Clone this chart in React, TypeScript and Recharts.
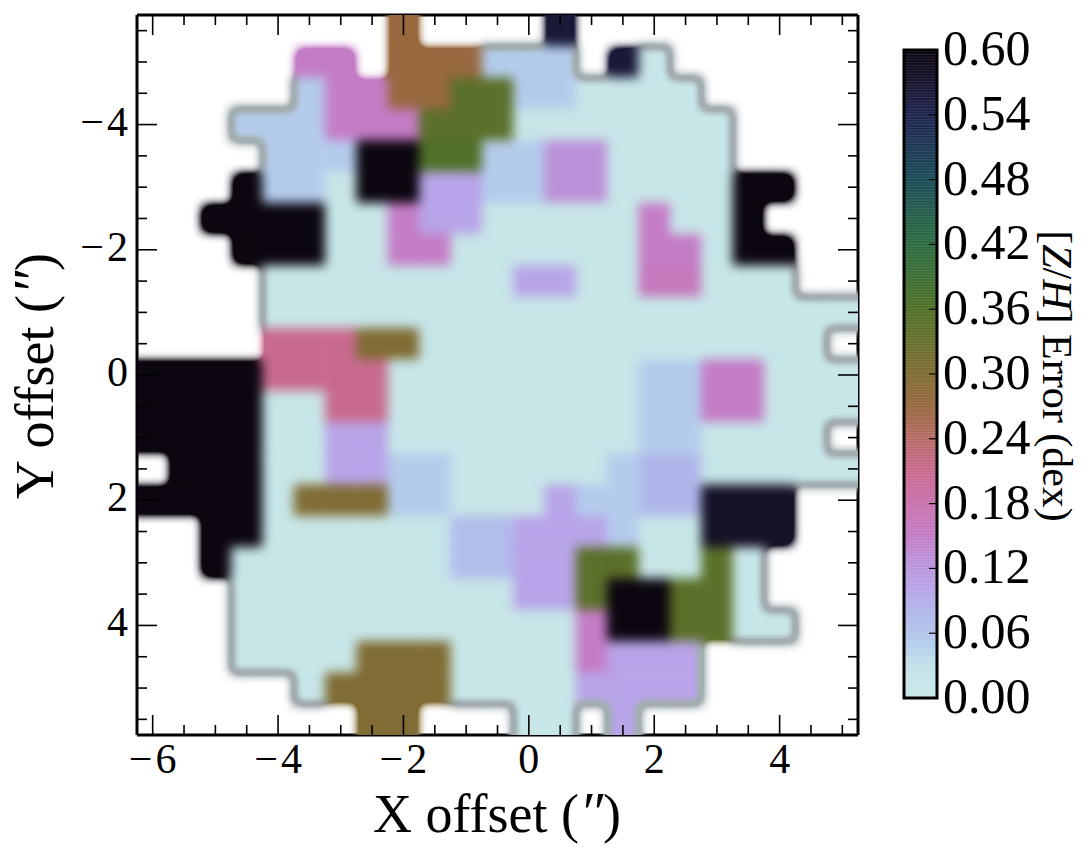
import { Bar, BarChart, Scatter, ScatterChart, XAxis, YAxis } from "recharts";

const n = null;

// cell centres in arcsec
const xCenters = [-6, -5.5, -5, -4.5, -4, -3.5, -3, -2.5, -2, -1.5, -1, -0.5, 0, 0.5, 1, 1.5, 2, 2.5, 3, 3.5, 4, 4.5, 5];
const yCenters = [-5.5, -5, -4.5, -4, -3.5, -3, -2.5, -2, -1.5, -1, -0.5, 0, 0.5, 1, 1.5, 2, 2.5, 3, 3.5, 4, 4.5, 5, 5.5];

// [Z/H] error per row, top to bottom; null = no data
const errorRows = [
  [n, n, n, n, n, n, n, n, .27, n, n, n, n, .56, n, n, n, n, n, n, n, n, n],
  [n, n, n, n, n, .15, .15, n, .27, .27, .27, .05, .05, .05, n, .56, .01, n, n, n, n, n, n],
  [n, n, n, n, n, .05, .15, .15, .27, .27, .345, .345, .05, .05, .01, .01, .01, .01, n, n, n, n, n],
  [n, n, n, .05, .05, .05, .15, .15, .15, .345, .345, .345, .01, .01, .01, .01, .01, .01, .01, n, n, n, n],
  [n, n, n, n, .05, .05, .05, .6, .6, .36, .36, .05, .05, .13, .13, .01, .01, .01, .01, n, n, n, n],
  [n, n, n, .6, .05, .05, .01, .6, .6, .1, .1, .05, .05, .13, .13, .01, .01, .01, .01, .6, .6, n, n],
  [n, n, .6, .6, .6, .6, .01, .01, .15, .1, .1, .01, .01, .01, .01, .01, .15, .01, .01, .6, n, n, n],
  [n, n, n, .6, .6, .6, .01, .01, .15, .15, .01, .01, .01, .01, .01, .01, .15, .15, .01, .6, .6, n, n],
  [n, n, n, n, .01, .01, .01, .01, .01, .01, .01, .01, .1, .1, .01, .01, .16, .16, .01, .01, .01, n, n],
  [n, n, n, n, .01, .01, .01, .01, .01, .01, .01, .01, .01, .01, .01, .01, .01, .01, .01, .01, .01, .01, .01],
  [n, n, n, n, .21, .21, .21, .3, .3, .01, .01, .01, .01, .01, .01, .01, .01, .01, .01, .01, .01, .01, n],
  [.6, .6, .6, .6, .21, .21, .21, .21, .01, .01, .01, .01, .01, .01, .01, .01, .05, .05, .15, .15, .01, .01, .01],
  [.6, .6, .6, .6, .01, .01, .21, .21, .01, .01, .01, .01, .01, .01, .01, .01, .05, .05, .15, .15, .01, .01, .01],
  [.6, .6, .6, .6, .01, .01, .1, .1, .01, .01, .01, .01, .01, .01, .01, .01, .05, .05, .01, .01, .01, .01, n],
  [n, .6, .6, .6, .01, .01, .1, .1, .05, .05, .01, .01, .01, .01, .01, .05, .08, .08, .01, .01, .01, .01, .01],
  [.6, .6, .6, .6, .01, .3, .3, .3, .05, .05, .01, .01, .01, .1, .05, .05, .08, .08, .575, .575, .575, n, n],
  [n, n, .6, .6, .01, .01, .01, .01, .01, .01, .07, .07, .1, .1, .1, .05, .01, .01, .575, .575, .575, n, n],
  [n, n, .6, .01, .01, .01, .01, .01, .01, .01, .07, .07, .1, .1, .345, .345, .01, .01, .345, .01, n, n, n],
  [n, n, n, .01, .01, .01, .01, .01, .01, .01, .01, .01, .1, .1, .345, .6, .6, .345, .345, .01, n, n, n],
  [n, n, n, .01, .01, .01, .01, .01, .01, .01, .01, .01, .01, .01, .15, .6, .6, .345, .345, .01, .01, n, n],
  [n, n, n, .01, .01, .01, .01, .3, .3, .3, .01, .01, .01, .01, .15, .1, .1, .1, n, n, n, n, n],
  [n, n, n, n, n, .01, .3, .3, .3, .3, .01, .01, .01, .01, .1, .1, .1, .1, n, n, n, n, n],
  [n, n, n, n, n, n, n, .3, .3, n, n, n, .01, .01, n, .1, n, n, n, n, n, n, n],
];

const xMajor = [-6, -4, -2, 0, 2, 4];
const xTicks = [-6, -5.5, -5, -4.5, -4, -3.5, -3, -2.5, -2, -1.5, -1, -0.5, 0, 0.5, 1, 1.5, 2, 2.5, 3, 3.5, 4, 4.5, 5];
const yMajor = [-4, -2, 0, 2, 4];
const yTicks = [-5.5, -5, -4.5, -4, -3.5, -3, -2.5, -2, -1.5, -1, -0.5, 0, 0.5, 1, 1.5, 2, 2.5, 3, 3.5, 4, 4.5, 5, 5.5];
const colorbarTicks = [0, 0.06, 0.12, 0.18, 0.24, 0.3, 0.36, 0.42, 0.48, 0.54, 0.6];
const colorbarData = [{ name: "error", top: 0.6 }];

// colormap
const cmapValues = [0, 0.03, 0.05, 0.08, 0.1, 0.13, 0.15, 0.18, 0.21, 0.24, 0.27, 0.3, 0.33, 0.36, 0.42, 0.48, 0.54, 0.57, 0.6];
const cmapColors = [
  "#c8e9e8", "#c4e0e8", "#b4ccec", "#b0b6ea", "#b8a4e8", "#bc90d8", "#c47cc6", "#c872ac", "#c86a8e", "#b86c68",
  "#98683f", "#806c34", "#66702c", "#4f7028", "#2c6c40", "#1a4c58", "#1f2450", "#17132c", "#0c0610",
];

const points = errorRows.flatMap((row, j) =>
  row.flatMap((v, i) => (v === null ? [] : [{ x: xCenters[i], y: yCenters[j], v, i, j }])),
);

const hex = (s: string, a: number) => parseInt(s.slice(a, a + 2), 16);
function colorFor(v: number) {
  let k = 0;
  while (k < cmapValues.length - 2 && v > cmapValues[k + 1]) k++;
  const t = Math.min(1, (v - cmapValues[k]) / (cmapValues[k + 1] - cmapValues[k]));
  const a = cmapColors[k];
  const b = cmapColors[k + 1];
  const mix = (o: number) => Math.round(hex(a, o) + (hex(b, o) - hex(a, o)) * t);
  return `rgb(${mix(1)},${mix(3)},${mix(5)})`;
}

const CELL = 721 / 23;
const FONT = '"Liberation Serif", "Times New Roman", serif';
const isEmpty = (i: number, j: number) => errorRows[j]?.[i] === null;

function cellRect(props: any, fill: string, inset = 0) {
  const { cx, cy, payload } = props;
  const { i, j } = payload;
  // edge cells run past the frame so the blur does not fade at the border,
  // sides facing an empty cell can be pulled in
  const l = (i === 0 ? 30 : 0) - (isEmpty(i - 1, j) ? inset : 0);
  const r = (i === 22 ? 30 : 0) - (isEmpty(i + 1, j) ? inset : 0);
  const t = (j === 0 ? 14 : 0) - (isEmpty(i, j - 1) ? inset : 0);
  const b = (j === 22 ? 30 : 0) - (isEmpty(i, j + 1) ? inset : 0);
  return (
    <rect
      x={cx - CELL / 2 - l}
      y={cy - CELL / 2 - t}
      width={CELL + l + r + 0.5}
      height={CELL + t + b + 0.5}
      fill={fill}
    />
  );
}

// grey rim only shows around the pale cells, the strong ones fade straight to white
const MaskShape = (props: any) =>
  props.payload.v <= 0.1 ? cellRect(props, "#a3aeb2") : cellRect(props, colorFor(props.payload.v), 4);
const ColorShape = (props: any) => cellRect(props, colorFor(props.payload.v));
const NoShape = () => <g />;

const tickLabel = (v: number) =>
  v < 0 ? (
    <>
      −<tspan dx={3}>{-v}</tspan>
    </>
  ) : (
    v
  );

const XTick = ({ x, y, payload }: any) => {
  const major = xMajor.includes(payload.value);
  return (
    <g>
      <line x1={x} x2={x} y1={y} y2={y - (major ? 20 : 10)} stroke="#000" strokeWidth={1.6} />
      {major && (
        <text x={x} y={y + 38} textAnchor="middle" fontFamily={FONT} fontSize={42} fill="#000">
          {tickLabel(payload.value)}
        </text>
      )}
    </g>
  );
};

const YTick = ({ x, y, payload }: any) => {
  const major = yMajor.includes(payload.value);
  return (
    <g>
      <line x1={x} x2={x + (major ? 20 : 10)} y1={y} y2={y} stroke="#000" strokeWidth={1.6} />
      {major && (
        <text x={x - 9} y={y + 11} textAnchor="end" fontFamily={FONT} fontSize={42} fill="#000">
          {tickLabel(payload.value)}
        </text>
      )}
    </g>
  );
};

const TopTick = ({ x, y, payload }: any) => (
  <line x1={x} x2={x} y1={y} y2={y + (xMajor.includes(payload.value) ? 20 : 10)} stroke="#000" strokeWidth={1.6} />
);

const RightTick = ({ x, y, payload }: any) => (
  <line x1={x} x2={x - (yMajor.includes(payload.value) ? 20 : 10)} y1={y} y2={y} stroke="#000" strokeWidth={1.6} />
);

const BarTick = ({ x, y, payload }: any) => (
  <text x={x + 6} y={y + 15} fontFamily={FONT} fontSize={50} fill="#000">
    {payload.value.toFixed(2)}
  </text>
);

const ColorbarRect = ({ x, y, width, height }: any) => (
  <g>
    <rect x={x} y={y} width={width} height={height} fill="url(#cmap)" />
    <rect x={x} y={y} width={width} height={height} fill="url(#hairlines)" />
    {colorbarTicks.slice(1, -1).map((t) => {
      const ty = y + height * (1 - t / 0.6);
      return <line key={t} x1={x + width - 8} x2={x + width} y1={ty} y2={ty} stroke="#000" strokeWidth={1.2} />;
    })}
    <rect x={x} y={y} width={width} height={height} fill="none" stroke="#000" strokeWidth={3} />
  </g>
);

const OffsetTitle = ({ name, transform }: { name: string; transform: string }) => (
  <text transform={transform} textAnchor="middle" fontFamily={FONT} fontSize={54} fill="#000">
    {name} offset (<tspan fontStyle="italic" fontSize={58}>″</tspan>)
  </text>
);

const ColorbarTitle = () => (
  <text
    transform="translate(143,376) rotate(90)"
    textAnchor="middle"
    fontFamily={FONT}
    fontSize={42}
    fill="#000"
  >
    [<tspan fontStyle="italic">Z</tspan>/<tspan fontStyle="italic">H</tspan>] Error (dex)
  </text>
);

const axisLine = { stroke: "#000", strokeWidth: 3 };

export default function App() {
  return (
    <div style={{ position: "absolute", left: 0, top: 0, width: 1090, height: 857, background: "#fff" }}>
      <style>{`
        body { margin: 0; }
        .cell-mask { filter: url(#maskBlur); }
        .cell-color { filter: url(#colorBlur); }
      `}</style>
      <div style={{ position: "absolute", left: 0, top: 0 }}>
        <ScatterChart width={900} height={857} margin={{ top: 14, right: 41, bottom: 0, left: 0 }}>
          <defs>
            <filter id="maskBlur" filterUnits="userSpaceOnUse" x={137} y={15} width={721} height={720} colorInterpolationFilters="sRGB">
              <feGaussianBlur stdDeviation={5.5} />
              <feComponentTransfer>
                <feFuncA type="linear" slope={2.6} />
              </feComponentTransfer>
            </filter>
            <filter id="colorBlur" filterUnits="userSpaceOnUse" x={137} y={15} width={721} height={720} colorInterpolationFilters="sRGB">
              <feGaussianBlur stdDeviation={5.5} />
              <feComponentTransfer>
                <feFuncA type="linear" slope={3.2} intercept={-2.1} />
              </feComponentTransfer>
            </filter>
          </defs>
          <Scatter className="cell-mask" data={points} shape={MaskShape} isAnimationActive={false} />
          <Scatter className="cell-color" data={points} shape={ColorShape} isAnimationActive={false} />
          <Scatter xAxisId="top" yAxisId="right" data={points} shape={NoShape} isAnimationActive={false} />
          <XAxis
            type="number"
            dataKey="x"
            domain={[-6.25, 5.25]}
            ticks={xTicks}
            interval={0}
            height={122}
            tickSize={0}
            tickMargin={0}
            tick={XTick}
            axisLine={axisLine}
            label={<OffsetTitle name="X" transform="translate(497,832)" />}
          />
          <XAxis
            xAxisId="top"
            orientation="top"
            type="number"
            dataKey="x"
            domain={[-6.25, 5.25]}
            ticks={xTicks}
            interval={0}
            height={1}
            tickSize={0}
            tickMargin={0}
            tick={TopTick}
            axisLine={axisLine}
          />
          <YAxis
            type="number"
            dataKey="y"
            reversed
            domain={[-5.75, 5.75]}
            ticks={yTicks}
            interval={0}
            width={137}
            tickSize={0}
            tickMargin={0}
            tick={YTick}
            axisLine={axisLine}
            label={<OffsetTitle name="Y" transform="translate(53,376) rotate(-90)" />}
          />
          <YAxis
            yAxisId="right"
            orientation="right"
            type="number"
            dataKey="y"
            reversed
            domain={[-5.75, 5.75]}
            ticks={yTicks}
            interval={0}
            width={1}
            tickSize={0}
            tickMargin={0}
            tick={RightTick}
            axisLine={axisLine}
          />
        </ScatterChart>
      </div>
      <div style={{ position: "absolute", left: 900, top: 0 }}>
        <BarChart
          width={190}
          height={857}
          data={colorbarData}
          barCategoryGap={0}
          margin={{ top: 50, right: 0, bottom: 159, left: 4 }}
        >
          <defs>
            <linearGradient id="cmap" x1="0" y1="1" x2="0" y2="0">
              {cmapValues.map((v, i) => (
                <stop key={v} offset={v / 0.6} stopColor={cmapColors[i]} />
              ))}
            </linearGradient>
            <pattern id="hairlines" patternUnits="userSpaceOnUse" width={33} height={2.7}>
              <rect width={33} height={0.7} fill="#fff" opacity={0.14} />
            </pattern>
          </defs>
          <XAxis dataKey="name" hide />
          <YAxis
            orientation="right"
            type="number"
            domain={[0, 0.6]}
            ticks={colorbarTicks}
            interval={0}
            width={153}
            tickSize={0}
            tickMargin={0}
            tick={BarTick}
            axisLine={false}
            label={<ColorbarTitle />}
          />
          <Bar dataKey="top" shape={ColorbarRect} isAnimationActive={false} />
        </BarChart>
      </div>
    </div>
  );
}
